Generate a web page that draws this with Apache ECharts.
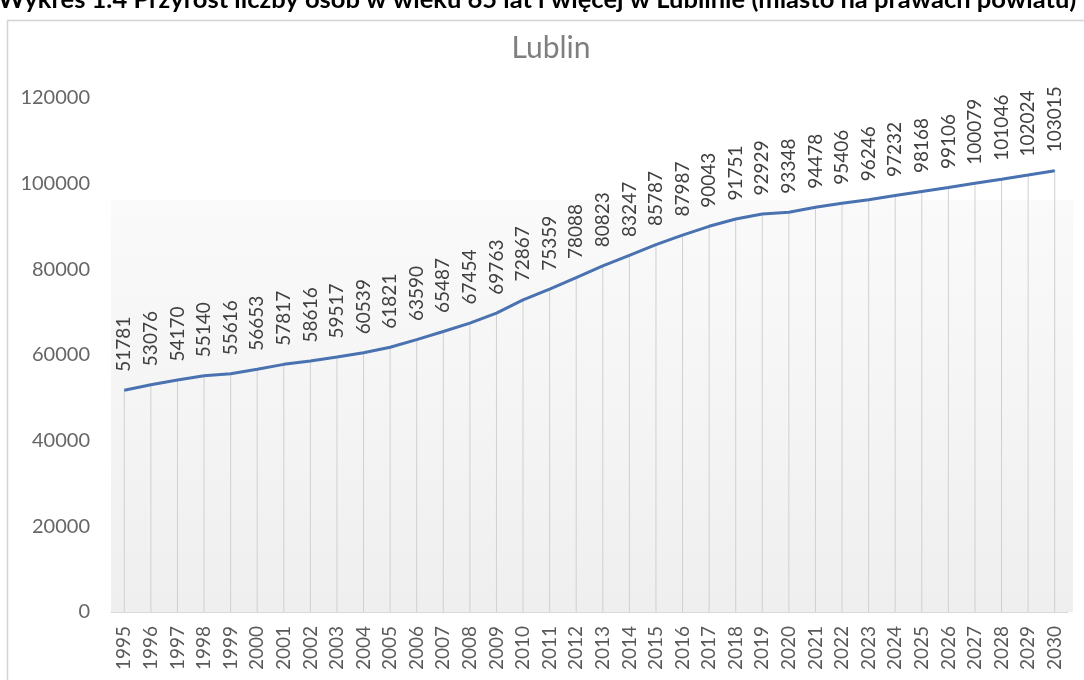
<!DOCTYPE html>
<html>
<head>
<meta charset="utf-8">
<script src="https://cdn.jsdelivr.net/npm/echarts@6/dist/echarts.min.js"></script>
<style>
  html, body { margin: 0; padding: 0; background: #fff; }
  #chart { width: 1084px; height: 680px; }
</style>
</head>
<body>
<div id="chart"></div>
<script>
// dane: liczba osób 65+ w Lublinie
var years = ['1995', '1996', '1997', '1998', '1999', '2000', '2001', '2002', '2003', '2004',
  '2005', '2006', '2007', '2008', '2009', '2010', '2011', '2012', '2013', '2014',
  '2015', '2016', '2017', '2018', '2019', '2020', '2021', '2022', '2023', '2024',
  '2025', '2026', '2027', '2028', '2029', '2030']
var values = [51781, 53076, 54170, 55140, 55616, 56653, 57817, 58616, 59517, 60539,
  61821, 63590, 65487, 67454, 69763, 72867, 75359, 78088, 80823, 83247,
  85787, 87987, 90043, 91751, 92929, 93348, 94478, 95406, 96246, 97232,
  98168, 99106, 100079, 101046, 102024, 103015]
var yTicks = [0, 20000, 40000, 60000, 80000, 100000, 120000]

var font = 'Lato, "Open Sans", sans-serif'
var chart = echarts.init(document.getElementById('chart'))

chart.setOption({
  animation: false,
  graphic: [
    // ramka wykresu
    {
      type: 'rect',
      z: -10,
      shape: { x: 7.5, y: 20.5, width: 1090, height: 680 },
      style: { fill: '#fff', stroke: '#d4d4d4', lineWidth: 1.5 }
    },
    // cieniowanie obszaru kreślenia
    {
      type: 'rect',
      z: -5,
      shape: { x: 111, y: 200, width: 962, height: 412 },
      style: {
        fill: new echarts.graphic.LinearGradient(0, 0, 0, 1, [
          { offset: 0, color: '#fafafa' },
          { offset: 1, color: '#efefef' }
        ])
      }
    },
    // tytuł
    {
      type: 'text',
      x: 551,
      y: 33,
      style: {
        text: 'Lublin',
        font: '30px ' + font,
        fill: '#7f7f7f',
        align: 'center'
      }
    },
    // podpis wykresu (obcięty u góry)
    {
      type: 'text',
      left: -2,
      top: -13,
      style: {
        text: 'Wykres 1.4 Przyrost liczby osób w wieku 65 lat i więcej w Lublinie (miasto na prawach powiatu)',
        font: 'bold 25.5px ' + font,
        fill: '#000'
      }
    }
  ],
  grid: { left: 111, right: 16, top: 98, bottom: 68 },
  xAxis: {
    type: 'category',
    data: years,
    boundaryGap: true,
    axisLine: { lineStyle: { color: '#d9d9d9', width: 1 } },
    axisTick: { show: false },
    axisLabel: { rotate: 90, interval: 0, color: '#595959', fontSize: 19, fontFamily: font, margin: 14 }
  },
  yAxis: {
    type: 'value',
    min: yTicks[0],
    max: yTicks[yTicks.length - 1],
    interval: 20000,
    axisLine: { show: false },
    axisTick: { show: false },
    splitLine: { show: false },
    axisLabel: {
      color: '#666666', fontSize: 20, fontFamily: font, margin: 21,
      formatter: function (v) { return String(v) }
    }
  },
  series: [
    {
      // linie rzutowania
      type: 'bar',
      data: values,
      barWidth: 1,
      silent: true,
      itemStyle: { color: '#d0d0d0' },
      z: 1
    },
    {
      type: 'line',
      data: values,
      symbol: 'circle',
      symbolSize: 1,
      showSymbol: true,
      itemStyle: { color: '#4a72b0' },
      lineStyle: { color: '#4a72b0', width: 3 },
      z: 3,
      labelLayout: { hideOverlap: false },
      label: {
        show: true,
        position: 'top',
        rotate: 90,
        align: 'left',
        verticalAlign: 'middle',
        distance: 18,
        color: '#404040',
        fontSize: 19,
        fontFamily: font,
        formatter: function (p) { return String(p.value) }
      }
    }
  ]
})
</script>
</body>
</html>
